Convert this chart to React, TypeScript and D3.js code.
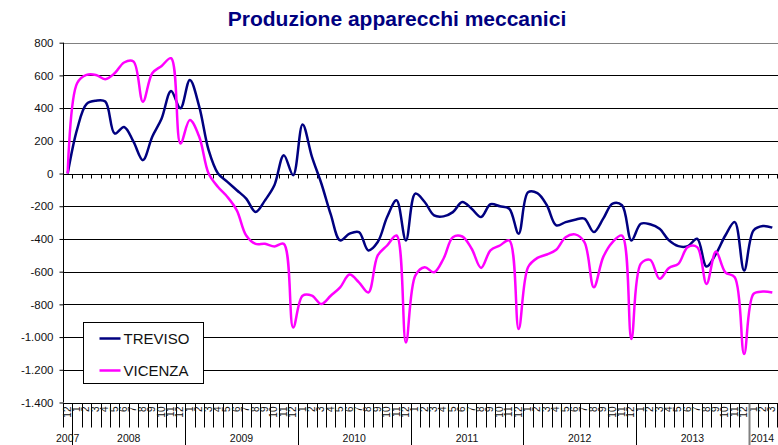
import React, { useEffect, useRef } from "react";
import * as d3 from "d3";

// months on the category axis: dec 2007 ... mar 2014
const months = [
  "12",
  ...d3.range(6).flatMap(() => d3.range(1, 13).map(String)),
  "1", "2", "3",
];
const years = ["2007", "2008", "2009", "2010", "2011", "2012", "2013", "2014"];
const yearMonths = [1, 12, 12, 12, 12, 12, 12, 3];

const treviso = [
  0, 270, 425, 445, 440, 245, 285, 195, 82, 225, 337, 505, 399,
  572, 409, 143, 0, -51, -102, -153, -235, -164, -72, 112, -10,
  300, 102, -61, -250, -409, -368, -358, -470, -419, -266, -164, -409,
  -123, -174, -256, -262, -236, -174, -215, -266, -188, -200, -215, -368,
  -115, -120, -194, -317, -297, -282, -276, -358, -276, -184, -194, -409,
  -307, -310, -337, -409, -444, -444, -399, -569, -491, -379, -297, -593,
  -348, -321, -331,
];
const vicenza = [
  0, 552, 603, 603, 577, 613, 679, 685, 439, 613, 658, 705, 184,
  327, 225, 0, -82, -143, -225, -379, -430, -430, -446, -430, -941,
  -747, -747, -798, -747, -696, -618, -665, -727, -501, -440, -379, -1033,
  -624, -573, -604, -521, -389, -385, -460, -577, -470, -440, -409, -951,
  -573, -516, -495, -466, -389, -372, -419, -696, -511, -419, -379, -1012,
  -552, -528, -644, -577, -552, -450, -450, -675, -477, -604, -634, -1104,
  -736, -722, -727,
];
const yTicks = d3.range(-1400, 801, 200);

const series = [
  { name: "TREVISO", values: treviso, color: "#000080" },
  { name: "VICENZA", values: vicenza, color: "#ff00ff" },
];

const itLocale = d3.formatLocale({
  decimal: ",",
  thousands: ".",
  grouping: [3],
  currency: ["", "€"],
  minus: "-",
});

const FONT = "'Liberation Sans', Arial, sans-serif";

const App = () => {
  const svgRef = useRef<SVGSVGElement>(null);
  const width = 778;
  const height = 445;

  useEffect(() => {
    const svg = d3.select(svgRef.current);
    svg.selectAll("*").remove();

    const left = 63;
    const right = 777;
    const top = 42.7;
    const bottom = 402.5;

    const x = d3
      .scaleBand<number>()
      .domain(d3.range(months.length))
      .range([left, right])
      .padding(0);
    const cx = (i: number) => x(i)! + x.bandwidth() / 2;

    const y = d3.scaleLinear().domain([-1400, 800]).range([bottom, top]);
    const fmt = itLocale.format(",");

    svg
      .append("text")
      .attr("x", 397)
      .attr("y", 26)
      .attr("text-anchor", "middle")
      .attr("fill", "#000080")
      .style("font", `bold 21px ${FONT}`)
      .text("Produzione apparecchi meccanici");

    // gridlines
    svg
      .append("g")
      .selectAll("line")
      .data(yTicks)
      .join("line")
      .attr("x1", left)
      .attr("x2", width)
      .attr("y1", (d) => Math.round(y(d)) + 0.5)
      .attr("y2", (d) => Math.round(y(d)) + 0.5)
      .attr("stroke", (d) => (d === 800 ? "#808080" : "#000"))
      .attr("stroke-width", 1);

    // y axis
    svg
      .append("g")
      .attr("transform", `translate(${left + 0.5},0)`)
      .call(
        d3
          .axisLeft(y)
          .tickValues(yTicks)
          .tickFormat((d) => fmt(d as number))
          .tickSize(4)
          .tickPadding(6)
      )
      .call((g) => g.select(".domain").attr("stroke", "#000").attr("d", `M0,${top}V${bottom}`))
      .call((g) => g.selectAll("text").attr("fill", "#111").style("font", `11.5px ${FONT}`));

    // category ticks on the zero line
    const y0 = Math.round(y(0)) + 0.5;
    svg
      .append("g")
      .selectAll("line")
      .data(d3.range(months.length + 1))
      .join("line")
      .attr("x1", (i) => Math.round(left + i * x.step()) + 0.5)
      .attr("x2", (i) => Math.round(left + i * x.step()) + 0.5)
      .attr("y1", y0)
      .attr("y2", y0 + 4)
      .attr("stroke", "#000");

    // month labels and separators below the plot
    const yb = Math.round(bottom) + 0.5;
    svg
      .append("g")
      .selectAll("line")
      .data(d3.range(months.length + 1))
      .join("line")
      .attr("x1", (i) => Math.round(left + i * x.step()) + 0.5)
      .attr("x2", (i) => Math.round(left + i * x.step()) + 0.5)
      .attr("y1", yb)
      .attr("y2", yb + 24)
      .attr("stroke", "#000");

    svg
      .append("g")
      .selectAll("text")
      .data(months)
      .join("text")
      .attr("transform", (d, i) => `translate(${cx(i) + 3},${yb + 3}) rotate(-90)`)
      .attr("text-anchor", "end")
      .attr("fill", "#111")
      .style("font", `10px ${FONT}`)
      .text((d) => d);

    // year separators and labels
    const yearStart = d3.cumsum([0, ...yearMonths]);
    svg
      .append("g")
      .selectAll("line")
      .data(yearStart.slice(1, -1))
      .join("line")
      .attr("x1", (s) => Math.round(left + s * x.step()) + 0.5)
      .attr("x2", (s) => Math.round(left + s * x.step()) + 0.5)
      .attr("y1", yb)
      .attr("y2", height)
      .attr("stroke", (s) => (s === yearStart[7] ? "#808080" : "#000"))
      .attr("stroke-width", (s) => (s === yearStart[7] ? 2 : 1));

    svg
      .append("g")
      .selectAll("text")
      .data(years)
      .join("text")
      .attr("x", (d, i) => {
        const c = left + (yearStart[i] + yearMonths[i] / 2) * x.step();
        return i === 7 ? left + yearStart[i] * x.step() + 2 : c;
      })
      .attr("y", 442)
      .attr("text-anchor", (d, i) => (i === 7 ? "start" : "middle"))
      .attr("fill", "#111")
      .style("font", `10.5px ${FONT}`)
      .text((d) => d);

    // series
    const line = d3
      .line<number>()
      .x((d, i) => cx(i))
      .y((d) => y(d))
      .curve(d3.curveCatmullRom.alpha(0.5));

    svg
      .append("g")
      .selectAll("path")
      .data(series)
      .join("path")
      .attr("d", (s) => line(s.values))
      .attr("fill", "none")
      .attr("stroke", (s) => s.color)
      .attr("stroke-width", 2.5)
      .attr("stroke-linejoin", "round");

    // legend
    const lg = svg.append("g").attr("transform", "translate(83.5,322.5)");
    lg.append("rect")
      .attr("width", 120)
      .attr("height", 61)
      .attr("fill", "#fff")
      .attr("stroke", "#000");
    series.forEach((s, i) => {
      const ly = 16 + i * 32;
      lg.append("line")
        .attr("x1", 16)
        .attr("x2", 37)
        .attr("y1", ly)
        .attr("y2", ly)
        .attr("stroke", s.color)
        .attr("stroke-width", 2.5);
      lg.append("text")
        .attr("x", 40)
        .attr("y", ly + 5.5)
        .attr("fill", "#111")
        .style("font", `15px ${FONT}`)
        .text(s.name);
    });
  }, []);

  return (
    <svg
      ref={svgRef}
      width={width}
      height={height}
      viewBox={`0 0 ${width} ${height}`}
      style={{ position: "absolute", left: 0, top: 0, background: "#fff" }}
    ></svg>
  );
};

export default App;
